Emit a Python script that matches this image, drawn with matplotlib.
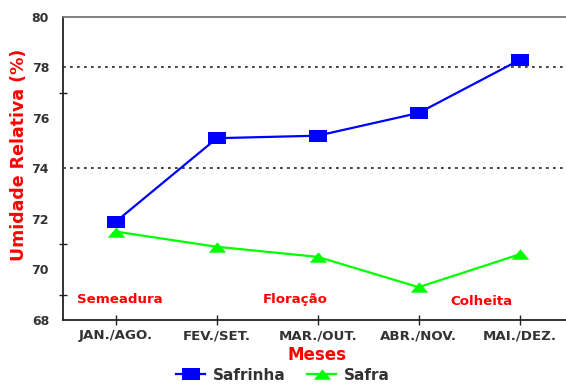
import matplotlib
matplotlib.use("Agg")
import matplotlib.pyplot as plt
from matplotlib.ticker import FixedLocator

plt.rcParams['font.family'] = ['DejaVu Sans']

meses = ["JAN./AGO.", "FEV./SET.", "MAR./OUT.", "ABR./NOV.", "MAI./DEZ."]
safrinha = [71.9, 75.2, 75.3, 76.2, 78.3]
safra = [71.5, 70.9, 70.5, 69.3, 70.6]
y_ticks = [68, 70, 72, 74, 76, 78, 80]
y_marks = [68, 69, 71, 74, 77, 78]
grid_levels = [74, 78]
fases = ["Semeadura", "Floração", "Colheita"]
fases_x = [0.04, 1.78, 3.62]
fases_y = [68.8, 68.8, 68.72]

# wide, flat marker shapes
rect = [(-1.4, -1.0), (1.4, -1.0), (1.4, 1.0), (-1.4, 1.0), (-1.4, -1.0)]
tri = [(-1.0, -0.6), (1.0, -0.6), (0.0, 0.6), (-1.0, -0.6)]

fig = plt.figure(figsize=(5.66, 3.85), dpi=100)
ax = fig.add_axes([63 / 566, 1 - 320 / 385, 1 - 63 / 566, 303 / 385])

x = list(range(len(meses)))
ax.plot(x, safrinha, color="#0000ff", lw=1.6, marker=rect, ms=13,
        markeredgewidth=0, label="Safrinha", zorder=4)
ax.plot(x, safra, color="#00ff00", lw=1.6, marker=tri, ms=12.5,
        markeredgewidth=0, label="Safra", zorder=3)

for lv in grid_levels:
    ax.axhline(lv, color="#444444", lw=1.4, ls=(0, (1.4, 2.2)), zorder=1)

ax.set_xlim(-0.525, 4.46)
ax.set_ylim(68, 80)
ax.set_xticks(x)
ax.set_xticklabels(meses)
ax.set_yticks(y_ticks)
ax.set_yticklabels([str(v) for v in y_ticks])
ax.yaxis.set_minor_locator(FixedLocator(y_marks))

ax.tick_params(axis="x", direction="inout", length=7, width=1, colors="#222222",
               labelsize=9.6, labelcolor="#333333", pad=3)
ax.tick_params(axis="y", which="major", length=0, labelsize=9,
               labelcolor="#333333", pad=10)
ax.tick_params(axis="y", which="minor", direction="inout", length=6, width=1,
               colors="#222222")
for lab in ax.get_xticklabels() + ax.get_yticklabels():
    lab.set_fontweight("bold")

ax.spines["right"].set_visible(False)
ax.spines["top"].set_color("#777777")
ax.spines["top"].set_linewidth(1.3)
ax.spines["left"].set_color("#222222")
ax.spines["left"].set_linewidth(1.3)
ax.spines["bottom"].set_color("#222222")
ax.spines["bottom"].set_linewidth(1.3)

for txt, fx, fy in zip(fases, fases_x, fases_y):
    ax.text(fx, fy, txt, color="#ff0000", fontsize=9.6, fontweight="bold",
            ha="center", va="center")

ax.set_xlabel("Meses", color="#ff0000", fontsize=12, fontweight="bold")
ax.xaxis.set_label_coords((317 - 63) / 503, -(346 - 320) / 303)
ax.set_ylabel("Umidade Relativa (%)", color="#ff0000", fontsize=12.5,
              fontweight="bold")
ax.yaxis.set_label_coords(-(63 - 28) / 503, (320 - 155) / 303)

leg = fig.legend(loc="center", bbox_to_anchor=(283 / 566, 1 - 375 / 385),
                 ncol=2, frameon=False, fontsize=11, handlelength=1.9,
                 columnspacing=1.4, handletextpad=0.5, markerscale=1.0)
for t in leg.get_texts():
    t.set_fontweight("bold")
    t.set_color("#333333")

fig.savefig("out.png", dpi=100)
